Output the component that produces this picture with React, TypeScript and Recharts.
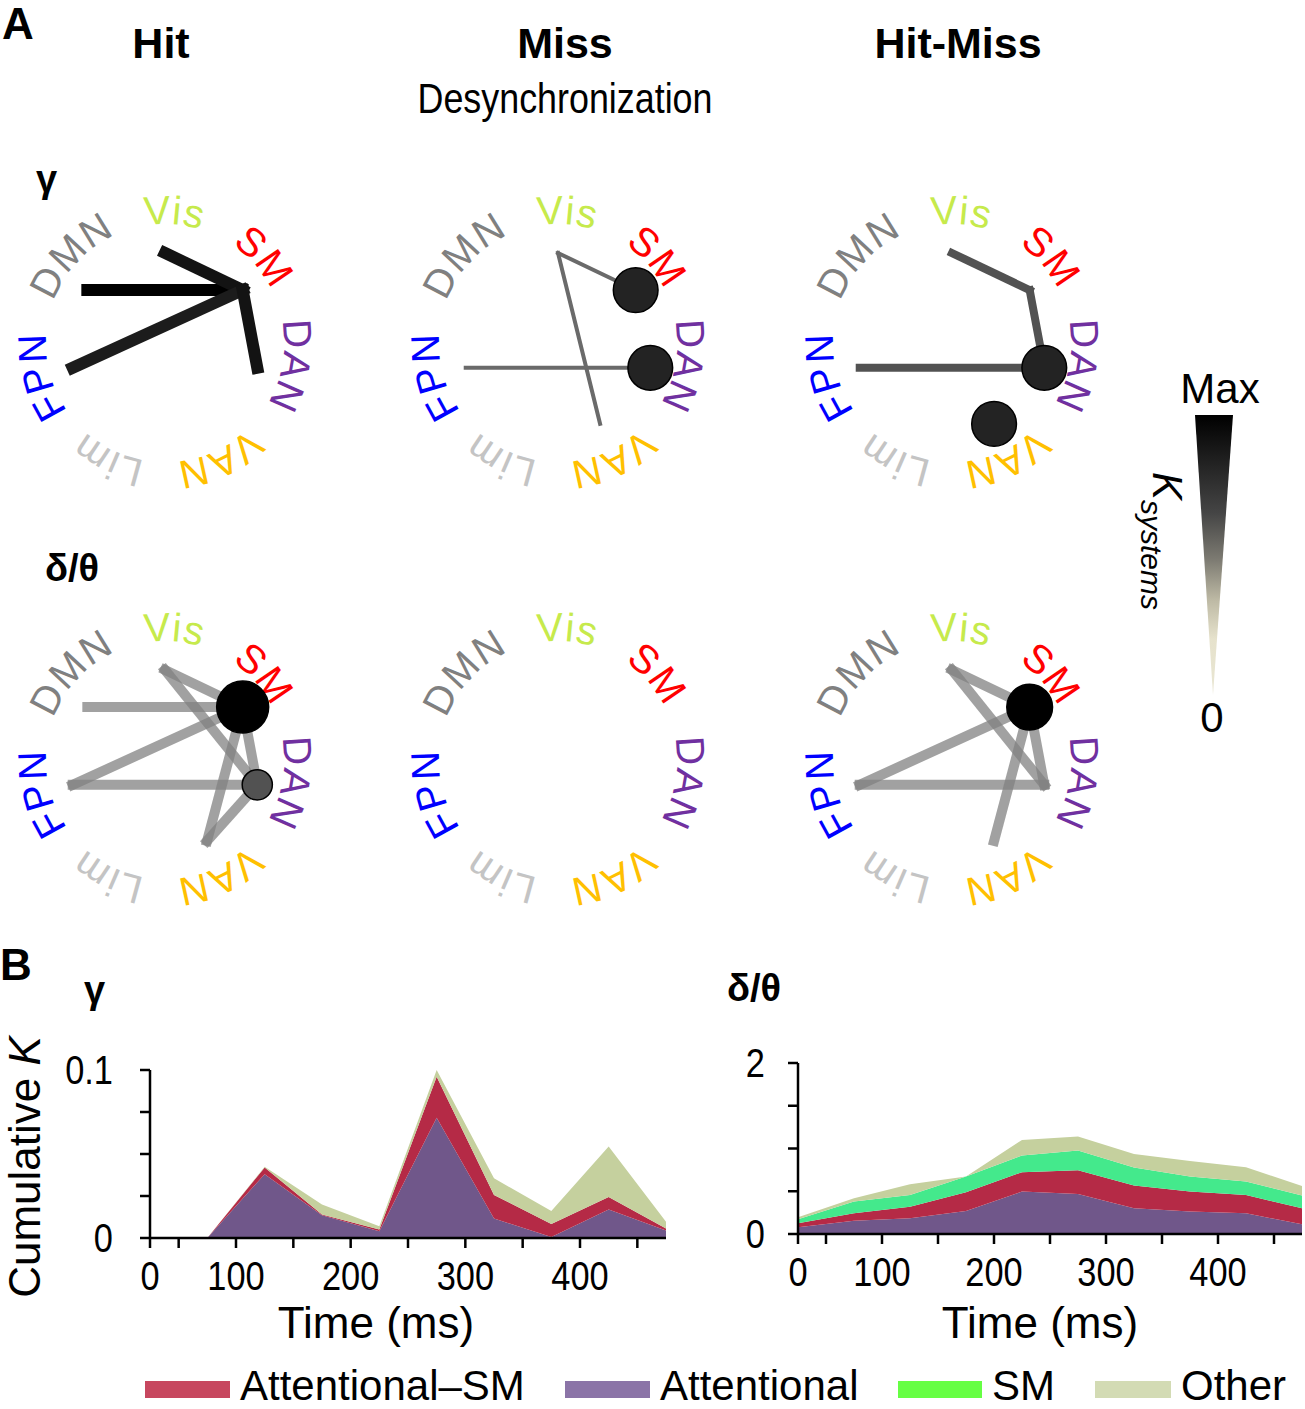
import React from 'react';
import { ScatterChart, Scatter, XAxis, YAxis, ReferenceLine, AreaChart, Area } from 'recharts';

const SANS = '"Liberation Sans", Arial, Helvetica, sans-serif';

// brain systems, clockwise from the top of each circle
const SYSTEMS = ['Vis', 'SM', 'DAN', 'VAN', 'Lim', 'FPN', 'DMN'];
const SYSTEM_COLORS = ['#c6ea4c', '#ff0000', '#7030a0', '#ffc000', '#c4c4c4', '#0000ff', '#808080'];
const NODE_ANGLES = [-90, -36, 16, 64, 116, 164, -144];
const LABEL_ANGLES = [-86, -41, 10, 65, 116, 165, -137];

type Edge = [string, string, number]; // from, to, K (0..1 of max)
type Self = [string, number, number]; // system, K, relative size

const HIT_GAMMA_EDGES: Edge[] = [
  ['DMN', 'SM', 1],
  ['Vis', 'SM', 0.92],
  ['FPN', 'SM', 0.88],
  ['SM', 'DAN', 0.92],
];
const HIT_GAMMA_SELF: Self[] = [];

const MISS_GAMMA_EDGES: Edge[] = [
  ['Vis', 'SM', 0.55],
  ['Vis', 'VAN', 0.55],
  ['FPN', 'DAN', 0.55],
];
const MISS_GAMMA_SELF: Self[] = [
  ['SM', 0.85, 0.86],
  ['DAN', 0.85, 0.86],
];

const DIFF_GAMMA_EDGES: Edge[] = [
  ['Vis', 'SM', 0.65],
  ['SM', 'DAN', 0.65],
  ['FPN', 'DAN', 0.65],
];
const DIFF_GAMMA_SELF: Self[] = [
  ['DAN', 0.85, 0.86],
  ['VAN', 0.85, 0.86],
];

const HIT_DT_EDGES: Edge[] = [
  ['DMN', 'SM', 0.45],
  ['Vis', 'SM', 0.45],
  ['Vis', 'DAN', 0.45],
  ['FPN', 'SM', 0.45],
  ['FPN', 'DAN', 0.45],
  ['SM', 'DAN', 0.45],
  ['SM', 'VAN', 0.45],
  ['DAN', 'VAN', 0.45],
];
const HIT_DT_SELF: Self[] = [
  ['SM', 1, 1],
  ['DAN', 0.65, 0.58],
];

const MISS_DT_EDGES: Edge[] = [];
const MISS_DT_SELF: Self[] = [];

const DIFF_DT_EDGES: Edge[] = [
  ['Vis', 'SM', 0.45],
  ['Vis', 'DAN', 0.45],
  ['FPN', 'SM', 0.45],
  ['FPN', 'DAN', 0.45],
  ['SM', 'DAN', 0.45],
  ['SM', 'VAN', 0.45],
];
const DIFF_DT_SELF: Self[] = [['SM', 1, 0.88]];

// panel B: cumulative K over time
const TIMES = [25, 75, 125, 175, 225, 275, 325, 375, 425, 475];
const GAMMA_ATT = [0, 0, 0.038, 0.0136, 0.004, 0.0716, 0.0116, 0.0006, 0.017, 0.0044];
const GAMMA_ATT_SM = [0, 0, 0.004, 0.0004, 0.001, 0.0244, 0.014, 0.0078, 0.0074, 0.0012];
const GAMMA_SM = [0, 0, 0, 0, 0, 0, 0, 0, 0, 0];
const GAMMA_OTHER = [0, 0, 0.0004, 0.006, 0.002, 0.004, 0.01, 0.0076, 0.03, 0.004];

const DT_ATT = [0.078, 0.156, 0.184, 0.27, 0.496, 0.469, 0.3, 0.262, 0.242, 0.113];
const DT_ATT_SM = [0.047, 0.086, 0.136, 0.218, 0.227, 0.277, 0.266, 0.234, 0.215, 0.187];
const DT_SM = [0.047, 0.137, 0.137, 0.184, 0.195, 0.231, 0.211, 0.176, 0.156, 0.149];
const DT_OTHER = [0.023, 0.039, 0.125, 0, 0.182, 0.163, 0.16, 0.183, 0.168, 0.113];

const X_TICKS = [25, 50, 100, 150, 200, 250, 300, 350, 400, 450];
const GAMMA_Y_TICKS = [0, 0.025, 0.05, 0.075, 0.1];
const DT_Y_TICKS = [0, 0.5, 1, 1.5, 2];

const AREA_COLORS = { att: '#70578a', attSm: '#b52a46', sm: '#44e98c', other: '#c5d09e' };

const LEGEND = [
  { name: 'Attentional–SM', color: '#c7475f', x: 145, w: 85 },
  { name: 'Attentional', color: '#8b74a7', x: 565, w: 85 },
  { name: 'SM', color: '#66ff44', x: 898, w: 84 },
  { name: 'Other', color: '#d3dbb4', x: 1095, w: 76 },
];

// diagram geometry
const SIZE = 330;
const PX_X = 96; // pixels per axis unit
const PX_Y = 90;
const LABEL_R = 119; // baseline radius of the system names

const grey = (k: number) => {
  const v = Math.round((1 - k) * 235);
  return `rgb(${v},${v},${v})`;
};

const rad = (d: number) => (d * Math.PI) / 180;

function nodePos(name: string) {
  const a = rad(NODE_ANGLES[SYSTEMS.indexOf(name)]);
  return { x: Math.cos(a), y: -Math.sin(a) };
}

// names are written clockwise along an arc around the diagram centre
const labelShape = (id: string) => (p: any) => {
  const { cx, cy, payload } = p;
  const a = rad(payload.angle);
  const a0 = a - 1.4;
  const a1 = a + 1.4;
  const pid = `${id}-${payload.name}`;
  const d = `M ${cx + LABEL_R * Math.cos(a0)} ${cy + LABEL_R * Math.sin(a0)} A ${LABEL_R} ${LABEL_R} 0 0 1 ${cx + LABEL_R * Math.cos(a1)} ${cy + LABEL_R * Math.sin(a1)}`;
  return (
    <g>
      <path id={pid} d={d} fill="none" stroke="none" />
      <text fontSize={40} fontFamily={SANS} fill={payload.color} textAnchor="middle" letterSpacing={1}>
        <textPath href={`#${pid}`} startOffset="50%">
          {payload.name}
        </textPath>
      </text>
    </g>
  );
};

const dotShape = (p: any) => (
  <circle cx={p.cx} cy={p.cy} r={p.payload.size * 26} fill={grey(p.payload.k)} stroke="#000" strokeWidth={1.5} />
);

type DiagramProps = {
  id: string;
  left: number;
  top: number;
  edges: Edge[];
  selfs: Self[];
  width: number;
  opacity: number;
};

function Diagram({ id, left, top, edges, selfs, width, opacity }: DiagramProps) {
  const labels = SYSTEMS.map((name, i) => ({ name, color: SYSTEM_COLORS[i], angle: LABEL_ANGLES[i], x: 0, y: 0 }));
  const dots = selfs.map(([n, k, size]) => ({ ...nodePos(n), k, size }));
  const xd = SIZE / 2 / PX_X;
  const yd = SIZE / 2 / PX_Y;
  return (
    <div style={{ position: 'absolute', left, top }}>
      <ScatterChart width={SIZE} height={SIZE} margin={{ top: 0, right: 0, bottom: 0, left: 0 }}>
        <XAxis type="number" dataKey="x" domain={[-xd, xd]} hide />
        <YAxis type="number" dataKey="y" domain={[-yd, yd]} hide />
        {edges.map(([a, b, k], i) => (
          <ReferenceLine
            key={i}
            segment={[nodePos(a), nodePos(b)]}
            stroke={grey(k)}
            strokeWidth={width}
            strokeOpacity={opacity}
            strokeLinecap="square"
            ifOverflow="visible"
          />
        ))}
        <Scatter data={labels} shape={labelShape(id)} isAnimationActive={false} />
        {dots.length > 0 && <Scatter data={dots} shape={dotShape} isAnimationActive={false} />}
      </ScatterChart>
    </div>
  );
}

const buildRows = (att: number[], attSm: number[], sm: number[], other: number[]) =>
  TIMES.map((t, i) => ({ t, att: att[i], attSm: attSm[i], sm: sm[i], other: other[i] }));

const axisStroke = { stroke: '#000', strokeWidth: 2.5 };

// condensed tick labels, like the narrow face of the original
const narrowTick = (anchor: 'middle' | 'end', dy: string, fmt: (v: number) => string) => (p: any) => (
  <g transform={`translate(${p.x},${p.y})`}>
    <text textAnchor={anchor} dy={dy} fontSize={40} fontFamily={SANS} fill="#000" transform="scale(0.86,1)">
      {fmt(p.payload.value)}
    </text>
  </g>
);

type StackProps = {
  left: number;
  top: number;
  plotW: number;
  plotH: number;
  data: any[];
  yMax: number;
  yTicks: number[];
  yMargin: number;
};

function StackChart({ left, top, plotW, plotH, data, yMax, yTicks, yMargin }: StackProps) {
  const yw = 100;
  const mt = 25;
  const mr = 4;
  const xh = 60;
  const xFmt = (v: number) => (v === 25 ? '0' : v % 100 === 0 ? String(v) : '');
  const yFmt = (v: number) => (v === 0 || v === yMax ? String(v) : '');
  return (
    <div style={{ position: 'absolute', left, top }}>
      <AreaChart width={yw + plotW + mr} height={mt + plotH + xh} data={data} margin={{ top: mt, right: mr, left: 0, bottom: 0 }}>
        <XAxis
          type="number"
          dataKey="t"
          domain={[25, 475]}
          ticks={X_TICKS}
          interval={0}
          axisLine={axisStroke}
          tickLine={axisStroke}
          tickSize={10}
          tickMargin={14}
          tick={narrowTick('middle', '0.71em', xFmt)}
          height={xh}
        />
        <YAxis
          type="number"
          domain={[0, yMax]}
          ticks={yTicks}
          interval={0}
          axisLine={axisStroke}
          tickLine={axisStroke}
          tickSize={10}
          tickMargin={yMargin}
          tick={narrowTick('end', '0.355em', yFmt)}
          width={yw}
          allowDataOverflow
        />
        <Area type="linear" dataKey="att" stackId="1" stroke="none" fill={AREA_COLORS.att} fillOpacity={1} isAnimationActive={false} />
        <Area type="linear" dataKey="attSm" stackId="1" stroke="none" fill={AREA_COLORS.attSm} fillOpacity={1} isAnimationActive={false} />
        <Area type="linear" dataKey="sm" stackId="1" stroke="none" fill={AREA_COLORS.sm} fillOpacity={1} isAnimationActive={false} />
        <Area type="linear" dataKey="other" stackId="1" stroke="none" fill={AREA_COLORS.other} fillOpacity={1} isAnimationActive={false} />
      </AreaChart>
    </div>
  );
}

const COLS = [165, 558, 952];
const ROWS = [343, 760];

export default function App() {
  const gammaRows = buildRows(GAMMA_ATT, GAMMA_ATT_SM, GAMMA_SM, GAMMA_OTHER);
  const dtRows = buildRows(DT_ATT, DT_ATT_SM, DT_SM, DT_OTHER);
  const pos = (c: number, r: number) => ({ left: COLS[c] - SIZE / 2, top: ROWS[r] - SIZE / 2 });

  return (
    <div style={{ position: 'relative', width: 1305, height: 1409, background: '#fff', fontFamily: SANS, overflow: 'hidden' }}>
      <style>{'body{margin:0}'}</style>

      <Diagram id="hg" {...pos(0, 0)} edges={HIT_GAMMA_EDGES} selfs={HIT_GAMMA_SELF} width={12} opacity={1} />
      <Diagram id="mg" {...pos(1, 0)} edges={MISS_GAMMA_EDGES} selfs={MISS_GAMMA_SELF} width={4} opacity={1} />
      <Diagram id="dg" {...pos(2, 0)} edges={DIFF_GAMMA_EDGES} selfs={DIFF_GAMMA_SELF} width={8} opacity={1} />
      <Diagram id="ht" {...pos(0, 1)} edges={HIT_DT_EDGES} selfs={HIT_DT_SELF} width={10} opacity={0.75} />
      <Diagram id="mt" {...pos(1, 1)} edges={MISS_DT_EDGES} selfs={MISS_DT_SELF} width={10} opacity={0.75} />
      <Diagram id="dt" {...pos(2, 1)} edges={DIFF_DT_EDGES} selfs={DIFF_DT_SELF} width={10} opacity={0.75} />

      <StackChart left={50} top={1045} plotW={516} plotH={168} data={gammaRows} yMax={0.1} yTicks={GAMMA_Y_TICKS} yMargin={27} />
      <StackChart left={698} top={1038} plotW={504} plotH={171} data={dtRows} yMax={2} yTicks={DT_Y_TICKS} yMargin={23} />

      <svg width={1305} height={1409} style={{ position: 'absolute', left: 0, top: 0, pointerEvents: 'none' }} fontFamily={SANS}>
        <defs>
          <linearGradient id="kbar" x1="0" y1="0" x2="0" y2="1">
            <stop offset="0" stopColor="#000" />
            <stop offset="0.35" stopColor="#454545" />
            <stop offset="0.52" stopColor="#7e7c73" />
            <stop offset="0.66" stopColor="#bdb9a4" />
            <stop offset="0.8" stopColor="#e6e2cc" />
            <stop offset="1" stopColor="#e9e6d3" />
          </linearGradient>
        </defs>

        <text x={2} y={39} fontSize={44} fontWeight="bold">A</text>
        <text x={161} y={58} fontSize={43} fontWeight="bold" textAnchor="middle">Hit</text>
        <text x={565} y={58} fontSize={43} fontWeight="bold" textAnchor="middle">Miss</text>
        <text x={958} y={58} fontSize={43} fontWeight="bold" textAnchor="middle">Hit-Miss</text>
        <text x={565} y={113} fontSize={42} textAnchor="middle" textLength={295} lengthAdjust="spacingAndGlyphs">
          Desynchronization
        </text>
        <text x={36} y={192} fontSize={38} fontWeight="bold">γ</text>
        <text x={45} y={581} fontSize={38} fontWeight="bold">δ/θ</text>

        <polygon points="1195,415 1233,415 1213,695" fill="url(#kbar)" />
        <text x={1220} y={403} fontSize={42} textAnchor="middle">Max</text>
        <text x={1212} y={732} fontSize={42} textAnchor="middle">0</text>
        <text transform="translate(1153,472) rotate(90)" fontSize={42} fontStyle="italic">
          K
          <tspan fontSize={30} dy={12}>systems</tspan>
        </text>

        <text x={0} y={980} fontSize={44} fontWeight="bold">B</text>
        <text x={84} y={1003} fontSize={38} fontWeight="bold">γ</text>
        <text x={727} y={1001} fontSize={38} fontWeight="bold">δ/θ</text>

        <text transform="translate(40,1167) rotate(-90)" fontSize={44} textAnchor="middle">
          Cumulative <tspan fontStyle="italic">K</tspan>
        </text>
        <text x={376} y={1338} fontSize={44} textAnchor="middle">Time (ms)</text>
        <text x={1040} y={1338} fontSize={44} textAnchor="middle">Time (ms)</text>

        {LEGEND.map((l) => (
          <g key={l.name}>
            <rect x={l.x} y={1381} width={l.w} height={17} fill={l.color} />
            <text x={l.x + l.w + 10} y={1400} fontSize={42}>{l.name}</text>
          </g>
        ))}
      </svg>
    </div>
  );
}
